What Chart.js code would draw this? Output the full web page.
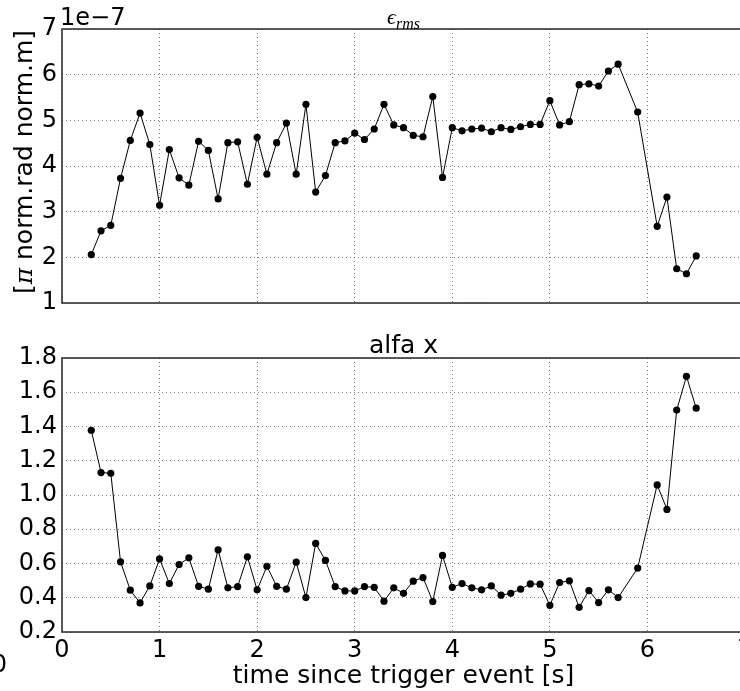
<!DOCTYPE html>
<html>
<head>
<meta charset="utf-8">
<script src="https://cdn.jsdelivr.net/npm/chart.js@4"></script>
<style>
  html, body { margin: 0; padding: 0; background: #fff; overflow: hidden; width: 740px; height: 691px; }
  #wrap { position: relative; width: 740px; height: 691px; overflow: hidden; }
  canvas { position: absolute; left: 0; }
  #c1 { top: 0; }
  #c2 { top: 330px; }
</style>
</head>
<body>
<div id="wrap">
  <canvas id="c1" width="760" height="330" style="width:760px;height:330px"></canvas>
  <canvas id="c2" width="760" height="361" style="width:760px;height:361px"></canvas>
</div>
<script>
// ---- data ----
const times = [0.3,0.4,0.5,0.6,0.7,0.8,0.9,1.0,1.1,1.2,1.3,1.4,1.5,1.6,1.7,1.8,1.9,2.0,2.1,2.2,
  2.3,2.4,2.5,2.6,2.7,2.8,2.9,3.0,3.1,3.2,3.3,3.4,3.5,3.6,3.7,3.8,3.9,4.0,4.1,4.2,
  4.3,4.4,4.5,4.6,4.7,4.8,4.9,5.0,5.1,5.2,5.3,5.4,5.5,5.6,5.7,5.9,6.1,6.2,6.3,6.4,6.5];
// emittance in units of 1e-7 [pi norm.rad norm.m]
const epsRms = [2.06,2.58,2.70,3.73,4.56,5.16,4.47,3.14,4.36,3.74,3.58,4.54,4.34,3.28,4.51,4.53,3.60,4.63,3.82,4.51,
  4.94,3.82,5.35,3.43,3.79,4.51,4.55,4.72,4.58,4.81,5.35,4.90,4.84,4.67,4.64,5.52,3.75,4.84,4.77,4.81,
  4.83,4.75,4.84,4.80,4.86,4.91,4.91,5.43,4.90,4.97,5.78,5.80,5.75,6.08,6.23,5.18,2.68,3.32,1.75,1.64,2.03];
const alfaX = [1.378,1.131,1.127,0.610,0.444,0.370,0.469,0.627,0.483,0.594,0.633,0.467,0.450,0.680,0.458,0.465,0.639,0.446,0.584,0.467,
  0.450,0.608,0.401,0.717,0.618,0.465,0.440,0.440,0.465,0.461,0.380,0.458,0.426,0.497,0.518,0.378,0.647,0.461,0.483,0.458,
  0.446,0.469,0.415,0.426,0.450,0.481,0.479,0.356,0.489,0.499,0.344,0.442,0.372,0.446,0.401,0.573,1.059,0.916,1.496,1.693,1.507];
const xTicks = [0,1,2,3,4,5,6,7];
const epsTicks = [1,2,3,4,5,6,7];
const alfaTicks = [0.2,0.4,0.6,0.8,1.0,1.2,1.4,1.6,1.8];
const epsExponent = '1e\u22127';
const epsTitle = ['\u03F5', 'rms'];
const alfaTitle = 'alfa x';
const yLabelParts = ['[', '\u03C0', ' norm.rad norm.m]'];
const xLabel = 'time since trigger event [s]';

const FONT = "'DejaVu Sans', sans-serif";
const GRID = { color: 'rgba(0,0,0,0.5)', lineWidth: 1, drawTicks: false };

function pts(ys) { return times.map((t, i) => ({ x: t, y: ys[i] })); }

function ds(ys) {
  return {
    data: pts(ys),
    borderColor: '#000', borderWidth: 1,
    pointBackgroundColor: '#000', pointBorderColor: '#000', pointBorderWidth: 0,
    pointRadius: 3.6, tension: 0, showLine: true, clip: false
  };
}

const framePlugin = {
  id: 'frame',
  beforeDatasetsDraw(chart) {
    const { ctx, chartArea: a } = chart;
    ctx.save();
    ctx.strokeStyle = '#333';
    ctx.lineWidth = 1.6;
    ctx.strokeRect(a.left, a.top, a.right - a.left, a.bottom - a.top);
    ctx.restore();
  }
};

function makeOptions(yMin, yMax, yTickVals, showX, xAxisHeight, padTop, fmt) {
  return {
    responsive: false, animation: false,
    layout: { padding: { top: padTop, left: 0, right: 15, bottom: 0 } },
    plugins: { legend: { display: false }, tooltip: { enabled: false }, title: { display: false } },
    scales: {
      x: {
        type: 'linear', min: 0, max: 7,
        afterBuildTicks: s => { s.ticks = xTicks.map(v => ({ value: v })); },
        afterFit: s => { s.height = xAxisHeight; },
        grid: { ...GRID },
        border: { display: false, dash: [1, 3] },
        ticks: { display: showX, color: '#000', font: { family: FONT, size: 24 }, padding: 4, maxRotation: 0,
                 autoSkip: false, callback: v => String(v) }
      },
      y: {
        type: 'linear', min: yMin, max: yMax,
        afterBuildTicks: s => { s.ticks = yTickVals.map(v => ({ value: v })); },
        afterFit: s => { s.width = 62; },
        grid: { ...GRID },
        border: { display: false, dash: [1, 3] },
        ticks: { color: '#000', font: { family: FONT, size: 24 }, padding: 5, autoSkip: false, callback: fmt }
      }
    }
  };
}

// ---- top chart ----
const textTop = {
  id: 'textTop',
  afterDraw(chart) {
    const { ctx, chartArea: a } = chart;
    ctx.save();
    ctx.fillStyle = '#000';
    // exponent text
    ctx.font = `24px ${FONT}`;
    ctx.textAlign = 'left'; ctx.textBaseline = 'alphabetic';
    ctx.fillText(epsExponent, a.left - 2, 25);
    // title epsilon_rms (math italic)
    const cx = (a.left + a.right) / 2;
    ctx.font = "italic 22px 'Liberation Serif', serif";
    const w1 = ctx.measureText(epsTitle[0]).width;
    ctx.font = "italic 16px 'Liberation Serif', serif";
    const w2 = ctx.measureText(epsTitle[1]).width;
    const x0 = cx - (w1 + w2) / 2;
    ctx.font = "italic 22px 'Liberation Serif', serif";
    ctx.fillText(epsTitle[0], x0, 24);
    ctx.font = "italic 16px 'Liberation Serif', serif";
    ctx.fillText(epsTitle[1], x0 + w1, 29);
    // y label rotated
    ctx.translate(25, 162);
    ctx.rotate(-Math.PI / 2);
    ctx.textBaseline = 'middle';
    const fonts = [`25px ${FONT}`, "italic 25px 'DejaVu Serif', serif", `25px ${FONT}`];
    let total = 0; const ws = [];
    yLabelParts.forEach((p, i) => { ctx.font = fonts[i]; const w = ctx.measureText(p).width; ws.push(w); total += w; });
    let x = -total / 2;
    yLabelParts.forEach((p, i) => { ctx.font = fonts[i]; ctx.fillText(p, x, 0); x += ws[i]; });
    ctx.restore();
  }
};

new Chart(document.getElementById('c1'), {
  type: 'scatter',
  data: { datasets: [ds(epsRms)] },
  options: makeOptions(1, 7, epsTicks, false, 27, 29, v => String(v)),
  plugins: [framePlugin, textTop]
});

// ---- bottom chart ----
const textBottom = {
  id: 'textBottom',
  afterDraw(chart) {
    const { ctx, chartArea: a } = chart;
    ctx.save();
    ctx.fillStyle = '#000';
    ctx.font = `25px ${FONT}`;
    ctx.textAlign = 'center'; ctx.textBaseline = 'alphabetic';
    const cx = (a.left + a.right) / 2;
    ctx.fillText(alfaTitle, cx, a.top - 5);
    ctx.fillText(xLabel, cx, 353);
    // stray offset label at the far left
    ctx.font = `24px ${FONT}`;
    ctx.fillText('0', -0.5, 342);
    ctx.restore();
  }
};

new Chart(document.getElementById('c2'), {
  type: 'scatter',
  data: { datasets: [ds(alfaX)] },
  options: makeOptions(0.2, 1.8, alfaTicks, true, 59, 28, v => v.toFixed(1)),
  plugins: [framePlugin, textBottom]
});
</script>
</body>
</html>
